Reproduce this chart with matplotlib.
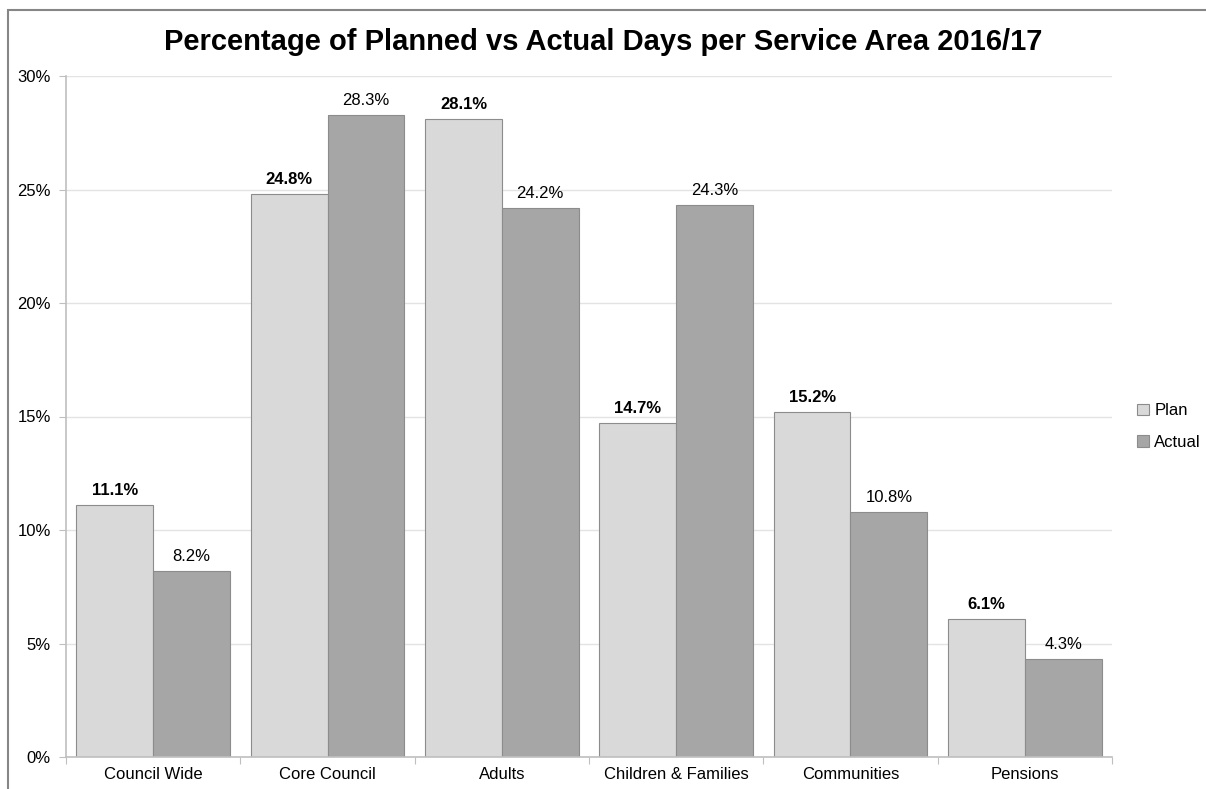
import matplotlib
matplotlib.use("Agg")
from matplotlib import pyplot as plt
from matplotlib.patches import Rectangle
import numpy as np

plt.rcParams['font.family'] = ['Liberation Sans', 'DejaVu Sans']

areas = ["Council Wide", "Core Council", "Adults", "Children & Families", "Communities", "Pensions"]
plan = [11.1, 24.8, 28.1, 14.7, 15.2, 6.1]
actual = [8.2, 28.3, 24.2, 24.3, 10.8, 4.3]
yticks = [0, 5, 10, 15, 20, 25, 30]

W, H = 1206, 789
fig = plt.figure(figsize=(W / 100, H / 100), dpi=100)

# outer chart border (only top and left edges are visible in the crop)
fig.patches.append(Rectangle((8 / W, -0.05), 1.1, (H - 10) / H + 0.05, transform=fig.transFigure,
                             fill=False, edgecolor="#868686", linewidth=1.5))

ax = fig.add_axes([66 / W, (H - 757) / H, (1112 - 66) / W, (757 - 76) / H])

x = np.arange(len(areas))
bw = 0.44
b1 = ax.bar(x - bw / 2, plan, bw, color="#d9d9d9", edgecolor="#8c8c8c", linewidth=0.8, label="Plan", zorder=2)
b2 = ax.bar(x + bw / 2, actual, bw, color="#a6a6a6", edgecolor="#8c8c8c", linewidth=0.8, label="Actual", zorder=2)

for rect, v in zip(b1, plan):
    ax.annotate(f"{v:.1f}%", (rect.get_x() + rect.get_width() / 2, v), xytext=(0, 5),
                textcoords="offset points", ha="center", va="bottom", fontsize=12, fontweight="bold")
for rect, v in zip(b2, actual):
    ax.annotate(f"{v:.1f}%", (rect.get_x() + rect.get_width() / 2, v), xytext=(0, 5),
                textcoords="offset points", ha="center", va="bottom", fontsize=12)

ax.set_xlim(-0.5, len(areas) - 0.5)
ax.set_ylim(0, 30)
ax.set_yticks(yticks)
ax.set_yticklabels([f"{t}%" for t in yticks], fontsize=12)
ax.set_xticks(np.arange(len(areas) + 1) - 0.5, minor=False)
ax.set_xticklabels([])
ax.set_xticks(x, minor=True)
ax.set_xticklabels(areas, minor=True, fontsize=12)
ax.tick_params(axis="x", which="minor", length=0, pad=7)
ax.tick_params(axis="x", which="major", length=5, color="#bfbfbf")
ax.tick_params(axis="y", length=5, color="#bfbfbf", pad=6)

ax.grid(axis="y", color="#e3e3e3", linewidth=1, zorder=0)
ax.set_axisbelow(True)
for s in ["top", "right"]:
    ax.spines[s].set_visible(False)
ax.spines["left"].set_color("#bfbfbf")
ax.spines["bottom"].set_color("#bfbfbf")
ax.spines["left"].set_linewidth(1.2)
ax.spines["bottom"].set_linewidth(1.2)

fig.text(0.5, (H - 42) / H, "Percentage of Planned vs Actual Days per Service Area 2016/17",
         ha="center", va="center", fontsize=21, fontweight="bold")

leg = ax.legend(loc="center left", bbox_to_anchor=(1.01, 0.485), frameon=False, fontsize=12,
                handlelength=0.7, handleheight=0.7, handletextpad=0.3, labelspacing=1.0)

plt.savefig("out.png", dpi=100)
